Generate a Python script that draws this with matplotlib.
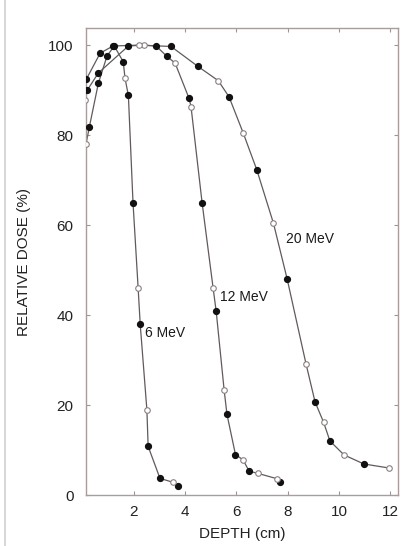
import matplotlib
matplotlib.use('Agg')
import numpy as np
from matplotlib import pyplot as plt
from matplotlib.lines import Line2D

plt.rcParams['font.family'] = ['Liberation Sans', 'DejaVu Sans']

# depth (cm) / relative dose (%)
mev6_filled_x = [0.28, 0.63, 0.97, 1.25, 1.6, 1.8, 1.98, 2.26, 2.57, 3.03, 3.75]
mev6_filled_y = [81.8, 91.5, 97.6, 99.8, 96.3, 88.8, 65.0, 38.0, 10.8, 3.7, 2.1]
mev6_open_x = [0.15, 1.67, 2.18, 2.52, 3.55]
mev6_open_y = [78.0, 92.6, 46.0, 19.0, 2.8]

mev12_filled_x = [0.2, 0.63, 1.8, 2.88, 3.3, 4.16, 4.67, 5.22, 5.64, 5.97, 6.5, 7.72]
mev12_filled_y = [90.0, 93.8, 99.8, 99.8, 97.5, 88.2, 65.0, 40.8, 17.9, 9.0, 5.3, 2.9]
mev12_open_x = [0.12, 2.4, 3.62, 4.24, 5.1, 5.53, 6.27, 6.85, 7.6]
mev12_open_y = [87.8, 100.0, 96.0, 86.3, 46.0, 23.3, 7.8, 4.8, 3.6]

mev20_filled_x = [0.16, 0.7, 1.2, 3.46, 4.5, 5.72, 6.8, 7.98, 9.07, 9.65, 10.97]
mev20_filled_y = [92.4, 98.2, 99.8, 99.7, 95.3, 88.5, 72.3, 48.1, 20.7, 12.0, 6.9]
mev20_open_x = [2.2, 5.3, 6.27, 7.45, 8.72, 9.4, 10.2, 11.95]
mev20_open_y = [100.0, 92.1, 80.5, 60.4, 29.1, 16.2, 8.9, 6.0]

curves = [
    ('6 MeV', mev6_filled_x, mev6_filled_y, mev6_open_x, mev6_open_y, (2.45, 36)),
    ('12 MeV', mev12_filled_x, mev12_filled_y, mev12_open_x, mev12_open_y, (5.37, 44)),
    ('20 MeV', mev20_filled_x, mev20_filled_y, mev20_open_x, mev20_open_y, (7.94, 57)),
]

fig = plt.figure(figsize=(4.01, 5.46), dpi=100)
ax = fig.add_axes([0.2145, 0.0934, 0.778, 0.8553])

for name, fx, fy, ox, oy, (lx, ly) in curves:
    x = np.array(fx + ox)
    y = np.array(fy + oy)
    order = np.argsort(x)
    ax.plot(x[order], y[order], color='#625a5a', lw=0.9, zorder=2)
    ax.plot(fx, fy, 'o', ms=4.2, color='#111111', zorder=3)
    ax.plot(ox, oy, 'o', ms=4.0, mfc='white', mec='#8a8080', mew=0.8, zorder=3)
    ax.text(lx, ly, name, fontsize=10, color='#1a1a1a', va='center', ha='left')

ax.set_xlim(0.15, 12.3)
ax.set_ylim(0, 103.8)
ax.set_xticks([2, 4, 6, 8, 10, 12])
ax.set_yticks([0, 20, 40, 60, 80, 100])
ax.tick_params(direction='in', length=3, width=0.8, color='#a09595',
               labelsize=11, labelcolor='#222222', top=True, right=True)
ax.tick_params(axis='x', pad=7)
ax.tick_params(axis='y', pad=9)
for s in ax.spines.values():
    s.set_color('#a89c9c')
    s.set_linewidth(1.0)

ax.set_xlabel('DEPTH (cm)', fontsize=11, color='#222222', labelpad=6)
ax.set_ylabel('RELATIVE DOSE (%)', fontsize=11, color='#222222', labelpad=12)

# faint scan border on the left edge
fig.add_artist(Line2D([5 / 401, 5 / 401], [0, 1], color='#d0d0d0', lw=1.2))

fig.savefig('out.png', dpi=100)
